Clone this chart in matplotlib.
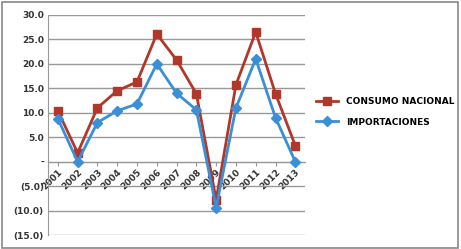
import matplotlib.pyplot as plt
from matplotlib.patches import Rectangle
import numpy as np

years = ["2001", "2002", "2003", "2004", "2005", "2006", "2007",
         "2008", "2009", "2010", "2011", "2012", "2013"]
consumo = [10.4, 1.8, 11.0, 14.5, 16.3, 26.1, 20.8, 13.9, -7.8, 15.7, 26.5, 13.9, 3.3]
importaciones = [8.8, 0.0, 8.0, 10.4, 11.8, 20.0, 14.0, 10.6, -9.4, 11.0, 21.0, 9.0, 0.0]
yticks = [-15, -10, -5, 0, 5, 10, 15, 20, 25, 30]


def fmt(v):
    if v == 0:
        return "-"
    if v < 0:
        return "({:.1f})".format(-v)
    return "{:.1f}".format(v)


fig = plt.figure(figsize=(4.61, 2.49), dpi=100)
ax = fig.add_axes([0.104, 0.056, 0.558, 0.884])

x = np.arange(len(years))
red = "#B0372A"
blue = "#3A8FD6"
ax.plot(x, consumo, color=red, lw=2, marker="s", ms=5.5, label="CONSUMO NACIONAL", zorder=3)
ax.plot(x, importaciones, color=blue, lw=2, marker="D", ms=5.5, label="IMPORTACIONES", zorder=3)

# spine position first: it resets the tick labels
ax.spines["bottom"].set_position(("data", 0))
ax.spines["bottom"].set_color("#999999")
ax.spines["left"].set_color("#999999")
ax.spines["top"].set_visible(False)
ax.spines["right"].set_visible(False)

ax.set_xlim(-0.5, len(years) - 0.5)
ax.set_ylim(-15, 30)
ax.set_yticks(yticks)
ax.set_yticklabels([fmt(v) for v in yticks], fontsize=6.5, fontweight="bold", color="#333333")
ax.yaxis.grid(True, color="#999999", lw=1)
ax.set_axisbelow(True)

ax.set_xticks(x)
ax.set_xticklabels(years, rotation=45, fontsize=6.5, fontweight="bold", color="#333333",
                   ha="right", rotation_mode="anchor")
ax.tick_params(axis="y", length=0, pad=3)
ax.tick_params(axis="x", length=3, color="#999999", pad=1)

ax.legend(loc="center left", bbox_to_anchor=(1.01, 0.56), frameon=False,
          prop={"size": 6.5, "weight": "bold"}, handlelength=2.5, labelspacing=1.3)

fig.patches.append(Rectangle((0.004, 0.006), 0.99, 0.986, transform=fig.transFigure,
                             fill=False, edgecolor="#888888", lw=1.2))

fig.savefig("out.png", dpi=100)
